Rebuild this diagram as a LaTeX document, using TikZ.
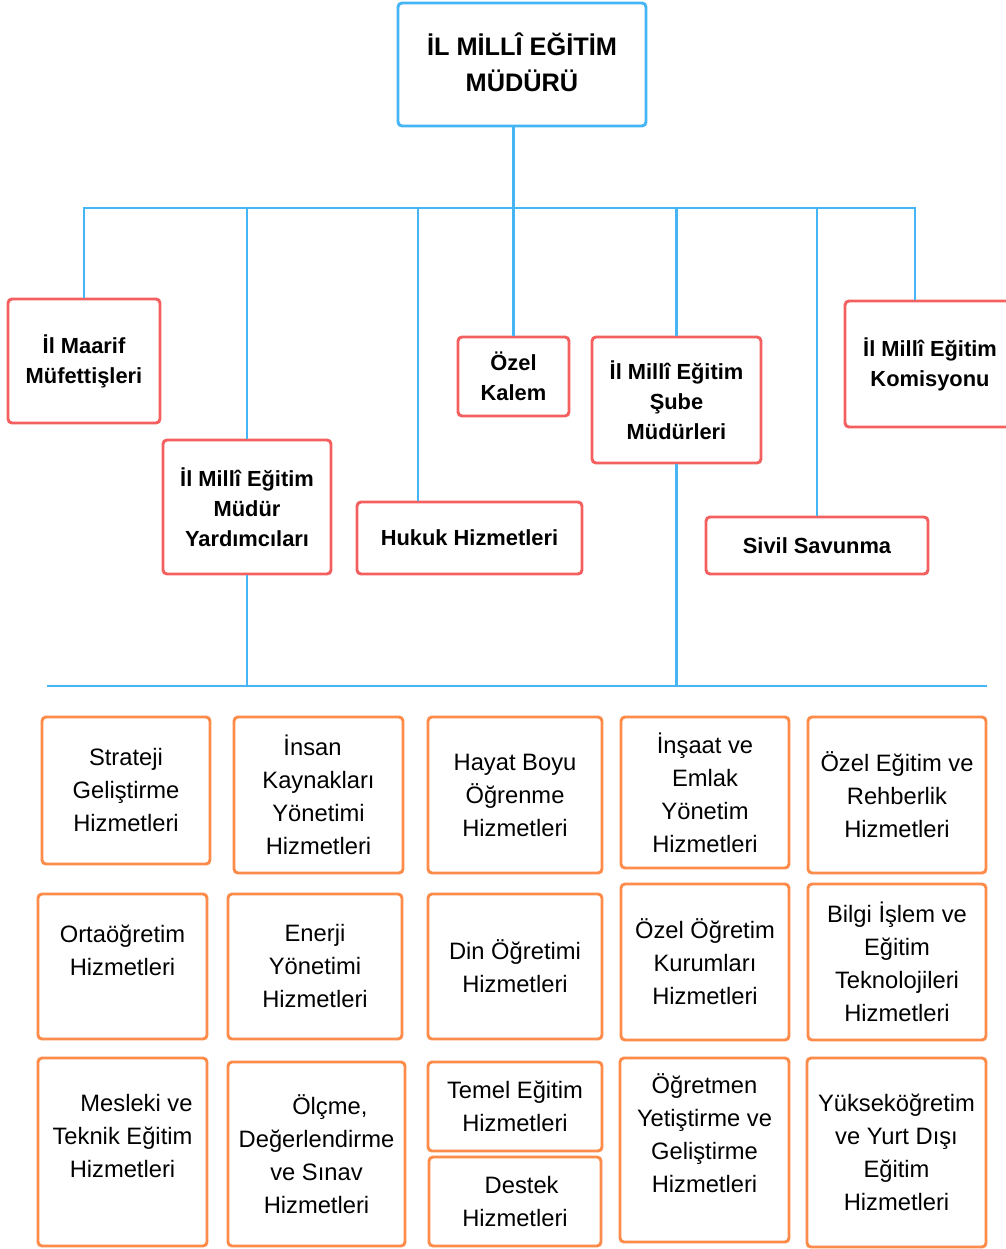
\documentclass[tikz,border=0pt]{standalone}
\usepackage{fontspec}
\setmainfont{Liberation Sans}
\usetikzlibrary{fit}
\definecolor{lineblue}{HTML}{45B5F5}
\definecolor{boxred}{HTML}{F45F5F}
\definecolor{boxorange}{HTML}{FD8C4B}
\begin{document}
\begin{tikzpicture}[x=0.75pt,y=-0.75pt,
  conn/.style={draw=lineblue, line width=2.2pt},
  basebox/.style={line width=2.2pt, rounded corners=3pt, inner sep=0pt, fill=white},
  basetext/.style={align=center, inner sep=0pt},
  titletext/.style={basetext, yshift=2pt, font=\fontsize{19}{27}\selectfont\bfseries},
  redtext/.style={basetext, font=\fontsize{16.4}{22.5}\selectfont\bfseries},
  ortext/.style={basetext, font=\fontsize{17.8}{24.75}\selectfont},
  titlebox/.style={basebox, draw=lineblue, label={[titletext]center:{#1}}},
  redbox/.style={basebox, draw=boxred, label={[redtext]center:{#1}}},
  orbox/.style={basebox, draw=boxorange, label={[ortext]center:{#1}}}]
\useasboundingbox (0,0) rectangle (1006,1249);
\clip (0,0) rectangle (1006,1249);

% top
\node[titlebox={İL MİLLÎ EĞİTİM\\MÜDÜRÜ}, fit={(398,3) (646,126)}] (dir) {};

% red boxes
\node[redbox={İl Maarif\\Müfettişleri}, fit={(8,299) (160,423)}] (im) {};
\node[redbox={İl Millî Eğitim\\Müdür\\Yardımcıları}, fit={(163,440) (331,574)}] (my) {};
\node[redbox={Hukuk Hizmetleri}, fit={(357,502) (582,574)}] (hk) {};
\node[redbox={Özel\\Kalem}, fit={(458,337) (569,416)}] (ok) {};
\node[redbox={İl Millî Eğitim\\Şube\\Müdürleri}, fit={(592,337) (761,463)}] (sm) {};
\node[redbox={Sivil Savunma}, fit={(706,517) (928,574)}] (ss) {};
\node[redbox={İl Millî Eğitim\\Komisyonu}, fit={(845,301) (1015,427)}] (kom) {};

% upper connectors
\coordinate (busR) at (915,208);
\coordinate (hkj) at (418,208);
\draw[conn] (im.north) |- (busR) -- (busR |- kom.north);
\draw[conn] (dir.south -| ok.north) -- (ok.north);
\draw[conn] (my.north |- busR) -- (my.north);
\draw[conn] (hkj) -- (hkj |- hk.north);
\draw[conn] (sm.north |- busR) -- (sm.north);
\draw[conn] (ss.north |- busR) -- (ss.north);

% lower bus
\coordinate (bbL) at (47,686);
\coordinate (bbR) at (987,686);
\draw[conn] (bbL) -- (bbR);
\draw[conn] (my.south) -- (my.south |- bbL);
\draw[conn] (sm.south) -- (sm.south |- bbL);

% orange boxes
\node[orbox={Strateji\\Geliştirme\\Hizmetleri}, fit={(42,717) (210,864)}] (s1) {};
\node[orbox={İnsan\hspace*{9pt}\\Kaynakları\\Yönetimi\\Hizmetleri}, fit={(234,717) (403,873)}] (s2) {};
\node[orbox={Hayat Boyu\\Öğrenme\\Hizmetleri}, fit={(428,717) (602,873)}] (s3) {};
\node[orbox={İnşaat ve\\Emlak\\Yönetim\\Hizmetleri}, fit={(621,717) (789,868)}] (s4) {};
\node[orbox={Özel Eğitim ve\\Rehberlik\\Hizmetleri}, fit={(808,717) (986,873)}] (s5) {};

\node[orbox={Ortaöğretim\\Hizmetleri\\\mbox{}}, fit={(38,894) (207,1039)}] (s6) {};
\node[orbox={Enerji\\Yönetimi\\Hizmetleri}, fit={(228,894) (402,1039)}] (s7) {};
\node[orbox={Din Öğretimi\\Hizmetleri}, fit={(428,894) (602,1039)}] (s8) {};
\node[orbox={Özel Öğretim\\Kurumları\\Hizmetleri}, fit={(621,884) (789,1040)}] (s9) {};
\node[orbox={Bilgi İşlem ve\\Eğitim\\Teknolojileri\\Hizmetleri}, fit={(808,884) (986,1040)}] (s10) {};

\node[orbox={\hspace*{21pt}Mesleki ve\\Teknik Eğitim\\Hizmetleri\\\mbox{}}, fit={(38,1058) (207,1246)}] (s11) {};
\node[orbox={\hspace*{20pt}Ölçme,\\Değerlendirme\\ve Sınav\\Hizmetleri}, fit={(228,1062) (405,1246)}] (s12) {};
\node[orbox={Temel Eğitim\\Hizmetleri}, fit={(428,1062) (602,1151)}] (s13) {};
\node[orbox={\hspace*{10pt}Destek\\Hizmetleri}, fit={(429,1157) (601,1246)}] (s14) {};
\node[orbox={Öğretmen\\Yetiştirme ve\\Geliştirme\\Hizmetleri\\\mbox{}}, fit={(620,1058) (789,1242)}] (s15) {};
\node[orbox={Yükseköğretim\\ve Yurt Dışı\\Eğitim\\Hizmetleri}, fit={(807,1058) (986,1247)}] (s16) {};
\end{tikzpicture}
\end{document}
